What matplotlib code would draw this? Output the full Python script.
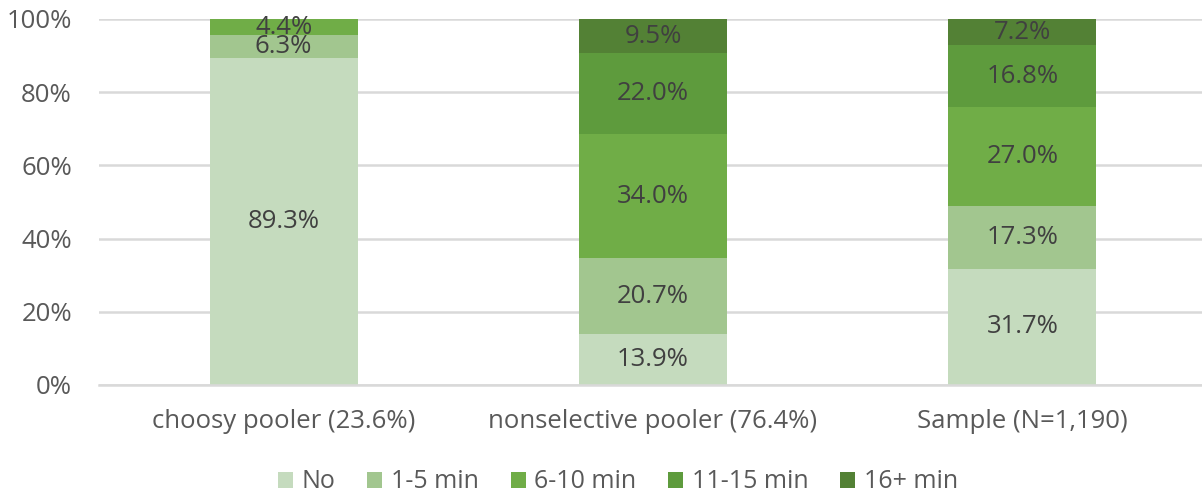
import matplotlib
matplotlib.use("Agg")
import matplotlib.pyplot as plt
import numpy as np

plt.rcParams['font.family'] = ['Open Sans', 'DejaVu Sans']

categories = ["choosy pooler (23.6%)", "nonselective pooler (76.4%)", "Sample (N=1,190)"]
series_names = ["No", "1-5 min", "6-10 min", "11-15 min", "16+ min"]
values = {
    "No":        [89.3, 13.9, 31.7],
    "1-5 min":   [6.3, 20.7, 17.3],
    "6-10 min":  [4.4, 34.0, 27.0],
    "11-15 min": [0.0, 22.0, 16.8],
    "16+ min":   [0.0, 9.5, 7.2],
}
colors = ["#C5DBBE", "#A2C68F", "#70AD47", "#5E9B3D", "#538135"]

fig = plt.figure(figsize=(12.02, 4.95), dpi=100)
ax = fig.add_axes([99/1202, 1 - 385/495, 1108/1202, 366/495])

x = np.arange(len(categories))
bottom = np.zeros(len(categories))
handles = []
for name, col in zip(series_names, colors):
    v = np.array(values[name])
    h = ax.bar(x, v, 0.4, bottom=bottom, color=col, zorder=2, label=name)
    handles.append(h)
    for xi, vi, bi in zip(x, v, bottom):
        if vi > 0:
            ax.text(xi, bi + vi / 2, f"{vi:.1f}%", ha="center", va="center",
                    fontsize=18.5, color="#404040", zorder=3)
    bottom += v

ax.set_xlim(-0.5, 2.5)
ax.set_ylim(0, 100)
ax.set_yticks(np.arange(0, 101, 20))
ax.set_yticklabels([f"{t}%" for t in range(0, 101, 20)])
ax.set_xticks(x)
ax.set_xticklabels(categories)
ax.yaxis.grid(True, color="#D9D9D9", linewidth=1.8, zorder=0)
ax.set_axisbelow(True)
for s in ["top", "right", "left"]:
    ax.spines[s].set_visible(False)
ax.spines["bottom"].set_color("#D9D9D9")
ax.spines["bottom"].set_linewidth(1.8)
ax.tick_params(axis="both", length=0, labelsize=18.5, colors="#595959")
ax.tick_params(axis="y", pad=19.5)
ax.tick_params(axis="x", pad=17)

fig.legend(handles=handles, labels=series_names, loc="center", bbox_to_anchor=(618/1202, 1 - 482/495),
           ncol=5, frameon=False, fontsize=18, labelcolor="#595959",
           handlelength=0.6, handleheight=0.6, handletextpad=0.35, columnspacing=1.27)

fig.savefig("out.png", dpi=100)
